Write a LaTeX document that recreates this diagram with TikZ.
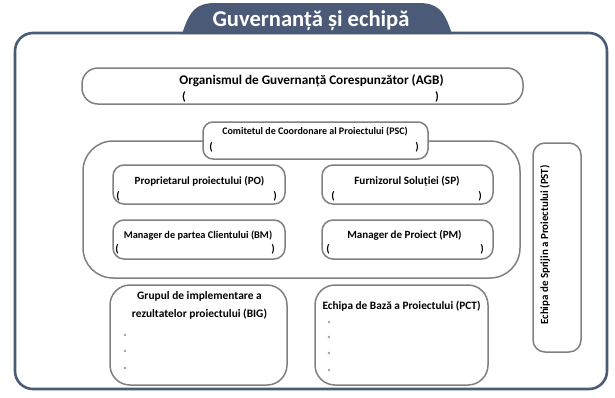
\documentclass[tikz,border=0pt]{standalone}
\usepackage{fontspec}
\setmainfont{Carlito}
\definecolor{framecol}{HTML}{4A5B78}
\definecolor{tabcol}{HTML}{4B5A76}
\definecolor{boxline}{HTML}{808080}
\definecolor{dotcol}{HTML}{A0A0A0}
\newcommand{\fsz}[1]{\fontsize{#1}{#1}\selectfont\bfseries}
\begin{document}
\begin{tikzpicture}[x=1pt,y=-1pt,
  boxshape/.style={draw=boxline, line width=1.5pt, fill=white, inner sep=0pt, rectangle},
  lbl/.style={font=\fsz{11}, inner sep=0pt, anchor=base},
  par/.style={font=\fsz{11}, inner sep=0pt, anchor=base},
  dotmark/.style={circle, fill=dotcol, inner sep=0pt, minimum size=2.8pt}
]
\fill[white] (0,0) rectangle (615,397);
\useasboundingbox (0,0) rectangle (615,397);

% outer frame
\node[draw=framecol, line width=2.6pt, rounded corners=18pt, inner sep=0pt,
      minimum width=592pt, minimum height=356pt] (frame) at (311,211) {};
% tab
\fill[tabcol] (182,34) .. controls (190,10) and (196,3) .. (216,3) -- (418,3)
   .. controls (438,3) and (444,10) .. (452,34) -- cycle;
\node[font=\fsz{22.6}, text=white, inner sep=0pt, anchor=base] (title) at (311,26.5) {Guvernanță și echipă};

% AGB
\node[boxshape, rounded corners=16pt, minimum width=441pt, minimum height=36pt] (agb) at (302.5,86) {};
\node[lbl, font=\fsz{13.2}] (agbt) at (311.5,84.5) {Organismul de Guvernanță Corespunzător (AGB)};
\node[par, font=\fsz{12}] (agbl) at (184,100.5) {(};
\node[par, font=\fsz{12}] (agbr) at (437,100.5) {)};

% PSC enclosure
\node[boxshape, fill=none, rounded corners=30pt, minimum width=437pt, minimum height=137pt] (pscarea) at (301.5,209.5) {};
% PSC box
\node[boxshape, rounded corners=10pt, minimum width=225pt, minimum height=37pt] (psc) at (315.5,140.5) {};
\node[lbl, font=\fsz{10}] (psct) at (315,134.5) {Comitetul de Coordonare al Proiectului (PSC)};
\node[par] (pscl) at (211,150.5) {(};
\node[par] (pscr) at (417,150.5) {)};

% PO
\node[boxshape, rounded corners=11pt, minimum width=172pt, minimum height=39pt] (po) at (199,184.5) {};
\node[lbl, font=\fsz{11}] (pot) at (199.5,184) {Proprietarul proiectului (PO)};
\node[par] (pol) at (118,199.5) {(};
\node[par] (por) at (275,199.5) {)};

% BM
\node[boxshape, rounded corners=11pt, minimum width=172pt, minimum height=39pt] (bm) at (199,239.5) {};
\node[lbl, font=\fsz{10.3}] (bmt) at (198,238.5) {Manager de partea Clientului (BM)};
\node[par] (bml) at (117,252.5) {(};
\node[par] (bmr) at (273,252.5) {)};

% SP
\node[boxshape, rounded corners=11pt, minimum width=171pt, minimum height=39pt] (sp) at (407.5,184.5) {};
\node[lbl, font=\fsz{11.2}] (spt) at (407,184) {Furnizorul Soluției (SP)};
\node[par] (spl) at (333,199.5) {(};
\node[par] (spr) at (480,199.5) {)};

% PM
\node[boxshape, rounded corners=11pt, minimum width=171pt, minimum height=39pt] (pm) at (407.5,239.5) {};
\node[lbl, font=\fsz{11}] (pmt) at (404.5,238.5) {Manager de Proiect (PM)};
\node[par] (pml) at (328,252.5) {(};
\node[par] (pmr) at (482,252.5) {)};

% PST
\node[boxshape, rounded corners=12pt, minimum width=48pt, minimum height=209pt] (pst) at (557,247.5) {};
\node[lbl, font=\fsz{10.9}, anchor=center, rotate=90] (pstt) at (545,245) {Echipa de Sprijin a Proiectului (PST)};

% BIG
\node[boxshape, rounded corners=20pt, minimum width=177pt, minimum height=100pt] (big) at (198.5,335) {};
\node[lbl, font=\fsz{11.4}] (bigt1) at (199.5,299) {Grupul de implementare a};
\node[lbl, font=\fsz{11.4}] (bigt2) at (199.5,317) {rezultatelor proiectului (BIG)};
\node[dotmark] (bigd1) at (125,335) {};
\node[dotmark] (bigd2) at (125,351) {};
\node[dotmark] (bigd3) at (125,368) {};

% PCT
\node[boxshape, rounded corners=20pt, minimum width=173pt, minimum height=100pt] (pct) at (401.5,335) {};
\node[lbl, font=\fsz{11.3}] (pctt) at (401.5,309) {Echipa de Bază a Proiectului (PCT)};
\node[dotmark] (pctd1) at (329,322) {};
\node[dotmark] (pctd2) at (329,337) {};
\node[dotmark] (pctd3) at (329,353) {};
\node[dotmark] (pctd4) at (329,370) {};
\end{tikzpicture}
\end{document}
